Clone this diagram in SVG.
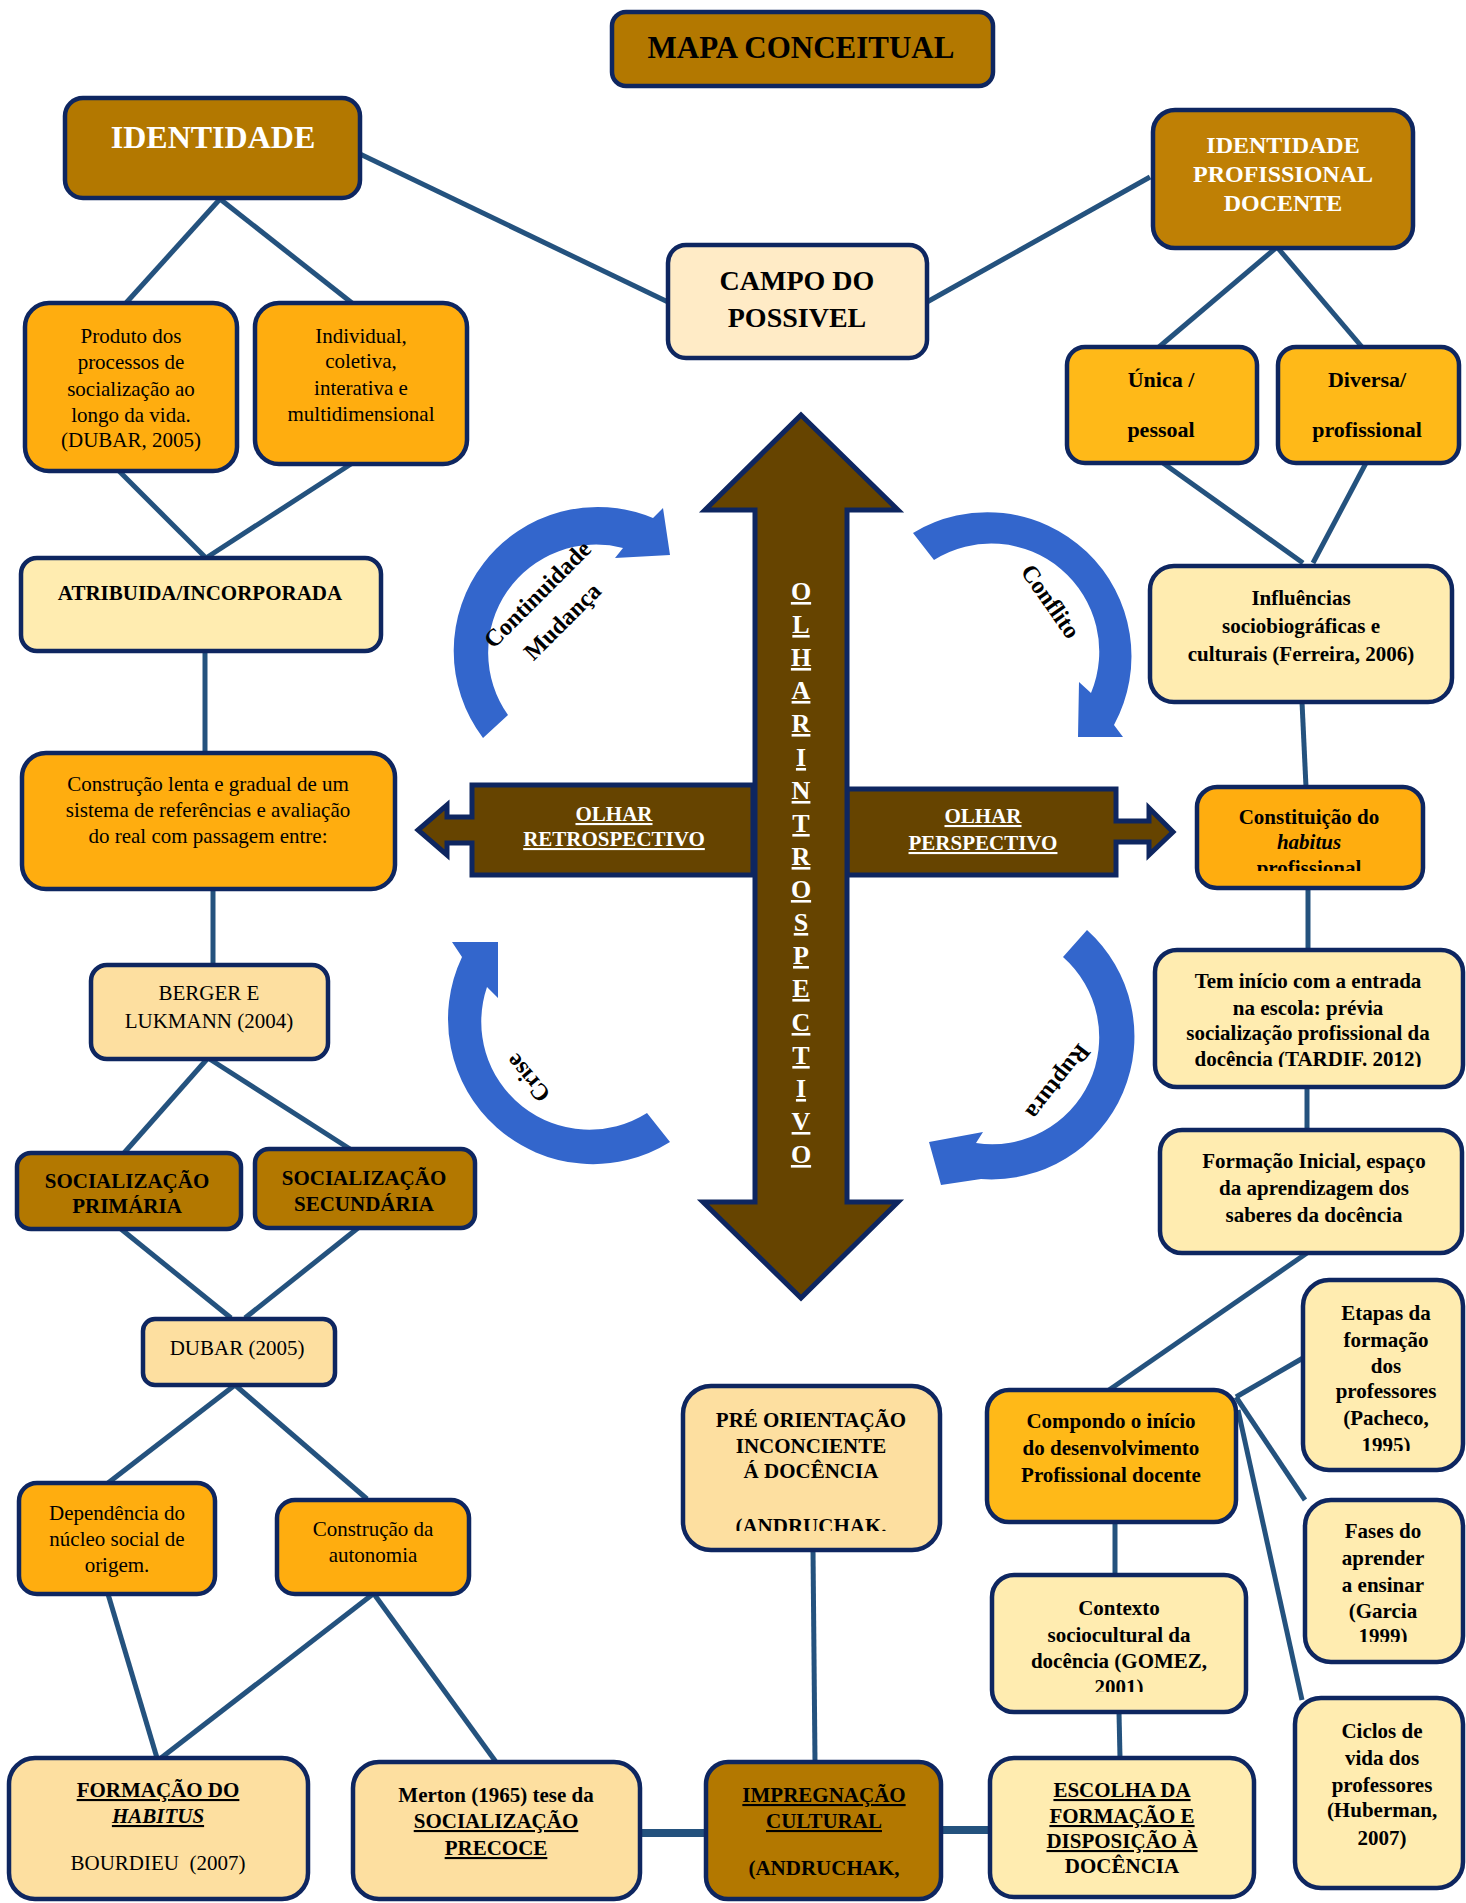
<svg xmlns="http://www.w3.org/2000/svg" width="1466" height="1903" viewBox="0 0 1466 1903">
<defs>
<style>
.bx{stroke:#0E2660;stroke-width:4.5}
.dg{fill:#B37800}
.or{fill:#FFAD0F}
.gd{fill:#FFB918}
.ly{fill:#FFECB0}
.pc{fill:#FDDFA0}
.c{stroke:#24527E;stroke-width:5;fill:none}
.ck{stroke:#24527E;stroke-width:8;fill:none}
.t{font-family:"Liberation Serif",serif;font-size:21px;text-anchor:middle;fill:#000}
.b{font-weight:bold}
.w{fill:#fff}
.u{text-decoration:underline}
.i{font-style:italic}
.bl{fill:#3366CC}
.ar{fill:#664400;stroke:#0E2660;stroke-width:5}
.s22{font-size:22px}
.s24{font-size:24px}
.s26{font-size:26px}
.s28{font-size:28px}
.s31{font-size:31px}
.s32{font-size:32px}
</style>
<clipPath id="clConst"><rect x="1197" y="787" width="226" height="84"/></clipPath>
<clipPath id="clTem"><rect x="1155" y="950" width="308" height="117"/></clipPath>
<clipPath id="clEt"><rect x="1303" y="1280" width="160" height="171"/></clipPath>
<clipPath id="clFa"><rect x="1305" y="1500" width="158" height="142"/></clipPath>
<clipPath id="clCx"><rect x="992" y="1575" width="254" height="117"/></clipPath>
<clipPath id="clPre"><rect x="683" y="1386" width="257" height="145"/></clipPath>
</defs>
<rect width="1466" height="1903" fill="#fff"/>

<g id="connectors">
<line class="c" x1="220" y1="199" x2="126" y2="303"/>
<line class="c" x1="220" y1="199" x2="352" y2="303"/>
<line class="c" x1="360" y1="154" x2="668" y2="302"/>
<line class="c" x1="927" y1="302" x2="1150" y2="177"/>
<line class="c" x1="1277" y1="247" x2="1159" y2="347"/>
<line class="c" x1="1277" y1="247" x2="1362" y2="347"/>
<line class="c" x1="119" y1="471" x2="206" y2="558"/>
<line class="c" x1="351" y1="464" x2="206" y2="558"/>
<line class="c" x1="205" y1="651" x2="205" y2="753"/>
<line class="c" x1="213" y1="889" x2="213" y2="965"/>
<line class="c" x1="208" y1="1058" x2="124" y2="1153"/>
<line class="c" x1="208" y1="1058" x2="350" y2="1149"/>
<line class="c" x1="121" y1="1229" x2="231" y2="1318"/>
<line class="c" x1="358" y1="1228" x2="245" y2="1318"/>
<line class="c" x1="235" y1="1385" x2="108" y2="1483"/>
<line class="c" x1="235" y1="1385" x2="367" y2="1499"/>
<line class="c" x1="108" y1="1594" x2="157" y2="1758"/>
<line class="c" x1="373" y1="1594" x2="161" y2="1758"/>
<line class="c" x1="374" y1="1594" x2="496" y2="1762"/>
<line class="ck" x1="640" y1="1833" x2="706" y2="1833"/>
<line class="ck" x1="941" y1="1830" x2="990" y2="1830"/>
<line class="c" x1="813" y1="1550" x2="815" y2="1762"/>
<line class="c" x1="1163" y1="463" x2="1303" y2="563"/>
<line class="c" x1="1366" y1="463" x2="1313" y2="563"/>
<line class="c" x1="1302" y1="702" x2="1306" y2="787"/>
<line class="c" x1="1308" y1="888" x2="1308" y2="950"/>
<line class="c" x1="1307" y1="1087" x2="1307" y2="1130"/>
<line class="c" x1="1307" y1="1253" x2="1109" y2="1390"/>
<line class="c" x1="1236" y1="1397" x2="1303" y2="1358"/>
<line class="c" x1="1236" y1="1397" x2="1305" y2="1500"/>
<line class="c" x1="1238" y1="1410" x2="1302" y2="1700"/>
<line class="c" x1="1115" y1="1522" x2="1115" y2="1575"/>
<line class="c" x1="1119" y1="1712" x2="1120" y2="1758"/>
</g>

<g id="title">
<rect class="bx dg" x="612" y="12" width="381" height="74" rx="14"/>
<text class="t b s31" x="801" y="58">MAPA CONCEITUAL</text>
</g>

<g id="identidade">
<rect class="bx dg" x="65" y="98" width="295" height="100" rx="18"/>
<text class="t b w s32" x="213" y="148">IDENTIDADE</text>
</g>

<g id="campo">
<rect class="bx" fill="#FFEBC6" x="668" y="245" width="259" height="113" rx="18"/>
<text class="t b s28" x="797" y="290">CAMPO DO</text>
<text class="t b s28" x="797" y="327">POSSIVEL</text>
</g>

<g id="idprof">
<rect class="bx" fill="#BF8005" x="1153" y="110" width="260" height="138" rx="22"/>
<text class="t b w s24" x="1283" y="153">IDENTIDADE</text>
<text class="t b w s24" x="1283" y="182">PROFISSIONAL</text>
<text class="t b w s24" x="1283" y="211">DOCENTE</text>
</g>

<g id="unica">
<rect class="bx gd" x="1067" y="347" width="190" height="116" rx="18"/>
<text class="t b s22" x="1161" y="387">Única /</text>
<text class="t b s22" x="1161" y="437">pessoal</text>
</g>

<g id="diversa">
<rect class="bx gd" x="1278" y="347" width="181" height="116" rx="18"/>
<text class="t b s22" x="1367" y="387">Diversa/</text>
<text class="t b s22" x="1367" y="437">profissional</text>
</g>

<g id="produto">
<rect class="bx or" x="25" y="303" width="212" height="168" rx="24"/>
<text class="t" x="131" y="343">Produto dos</text>
<text class="t" x="131" y="369">processos de</text>
<text class="t" x="131" y="396">socialização ao</text>
<text class="t" x="131" y="422">longo da vida.</text>
<text class="t" x="131" y="447">(DUBAR, 2005)</text>
</g>

<g id="individual">
<rect class="bx or" x="255" y="303" width="212" height="161" rx="24"/>
<text class="t" x="361" y="343">Individual,</text>
<text class="t" x="361" y="368">coletiva,</text>
<text class="t" x="361" y="395">interativa e</text>
<text class="t" x="361" y="421">multidimensional</text>
</g>

<g id="atribuida">
<rect class="bx ly" x="21" y="558" width="360" height="93" rx="16"/>
<text class="t b" x="200" y="600">ATRIBUIDA/INCORPORADA</text>
</g>

<g id="construcao">
<rect class="bx or" x="22" y="753" width="373" height="136" rx="24"/>
<text class="t" x="208" y="791">Construção lenta e gradual de um</text>
<text class="t" x="208" y="817">sistema de referências e avaliação</text>
<text class="t" x="208" y="843">do real com passagem entre:</text>
</g>

<g id="berger">
<rect class="bx pc" x="91" y="965" width="237" height="94" rx="16"/>
<text class="t" x="209" y="1000">BERGER E</text>
<text class="t" x="209" y="1028">LUKMANN (2004)</text>
</g>

<g id="socprim">
<rect class="bx dg" x="17" y="1153" width="224" height="76" rx="14"/>
<text class="t b" x="127" y="1188">SOCIALIZAÇÃO</text>
<text class="t b" x="127" y="1213">PRIMÁRIA</text>
</g>

<g id="socsec">
<rect class="bx dg" x="255" y="1149" width="220" height="79" rx="14"/>
<text class="t b" x="364" y="1185">SOCIALIZAÇÃO</text>
<text class="t b" x="364" y="1211">SECUNDÁRIA</text>
</g>

<g id="dubar">
<rect class="bx pc" x="143" y="1319" width="192" height="66" rx="12"/>
<text class="t" x="237" y="1355">DUBAR (2005)</text>
</g>

<g id="dependencia">
<rect class="bx or" x="19" y="1483" width="196" height="111" rx="18"/>
<text class="t" x="117" y="1520">Dependência do</text>
<text class="t" x="117" y="1546">núcleo social de</text>
<text class="t" x="117" y="1572">origem.</text>
</g>

<g id="autonomia">
<rect class="bx or" x="277" y="1500" width="192" height="94" rx="18"/>
<text class="t" x="373" y="1536">Construção da</text>
<text class="t" x="373" y="1562">autonomia</text>
</g>

<g id="habitus">
<rect class="bx pc" x="9" y="1758" width="299" height="141" rx="26"/>
<text class="t b u" x="158" y="1797">FORMAÇÃO DO</text>
<text class="t b i u" x="158" y="1823">HABITUS</text>
<text class="t" x="158" y="1870" xml:space="preserve">BOURDIEU  (2007)</text>
</g>

<g id="merton">
<rect class="bx pc" x="353" y="1762" width="287" height="137" rx="26"/>
<text class="t b" x="496" y="1802">Merton (1965) tese da</text>
<text class="t b u" x="496" y="1828">SOCIALIZAÇÃO</text>
<text class="t b u" x="496" y="1855">PRECOCE</text>
</g>

<g id="impregnacao">
<rect class="bx dg" x="706" y="1762" width="235" height="137" rx="22"/>
<text class="t b u" x="824" y="1802">IMPREGNAÇÃO</text>
<text class="t b u" x="824" y="1828">CULTURAL</text>
<text class="t b" x="824" y="1875">(ANDRUCHAK,</text>
</g>

<g id="preorientacao">
<rect class="bx pc" x="683" y="1386" width="257" height="164" rx="28"/>
<text class="t b" x="811" y="1427">PRÉ ORIENTAÇÃO</text>
<text class="t b" x="811" y="1453">INCONCIENTE</text>
<text class="t b" x="811" y="1478">Á DOCÊNCIA</text>
<text class="t b" x="811" y="1533" clip-path="url(#clPre)">(ANDRUCHAK.</text>
</g>

<g id="compondo">
<rect class="bx gd" x="987" y="1390" width="249" height="132" rx="22"/>
<text class="t b" x="1111" y="1428">Compondo o início</text>
<text class="t b" x="1111" y="1455">do desenvolvimento</text>
<text class="t b" x="1111" y="1482">Profissional docente</text>
</g>

<g id="contexto">
<rect class="bx ly" x="992" y="1575" width="254" height="137" rx="22"/>
<text class="t b" x="1119" y="1615">Contexto</text>
<text class="t b" x="1119" y="1642">sociocultural da</text>
<text class="t b" x="1119" y="1668">docência (GOMEZ,</text>
<text class="t b" x="1119" y="1694" clip-path="url(#clCx)">2001)</text>
</g>

<g id="escolha">
<rect class="bx ly" x="990" y="1758" width="264" height="139" rx="24"/>
<text class="t b u" x="1122" y="1797">ESCOLHA DA</text>
<text class="t b u" x="1122" y="1823">FORMAÇÃO E</text>
<text class="t b u" x="1122" y="1848">DISPOSIÇÃO À</text>
<text class="t b" x="1122" y="1873">DOCÊNCIA</text>
</g>

<g id="influencias">
<rect class="bx ly" x="1150" y="566" width="302" height="136" rx="24"/>
<text class="t b" x="1301" y="605">Influências</text>
<text class="t b" x="1301" y="633">sociobiográficas e</text>
<text class="t b" x="1301" y="661">culturais (Ferreira, 2006)</text>
</g>

<g id="constituicao">
<rect class="bx or" x="1197" y="787" width="226" height="101" rx="20"/>
<text class="t b" x="1309" y="824">Constituição do</text>
<text class="t b i" x="1309" y="849">habitus</text>
<text class="t b" x="1309" y="875" clip-path="url(#clConst)">profissional</text>
</g>

<g id="teminicio">
<rect class="bx ly" x="1155" y="950" width="308" height="137" rx="22"/>
<text class="t b" x="1308" y="988">Tem início com a entrada</text>
<text class="t b" x="1308" y="1015">na escola: prévia</text>
<text class="t b" x="1308" y="1040">socialização profissional da</text>
<text class="t b" x="1308" y="1066" clip-path="url(#clTem)">docência (TARDIF. 2012)</text>
</g>

<g id="formacaoinicial">
<rect class="bx ly" x="1160" y="1130" width="302" height="123" rx="22"/>
<text class="t b" x="1314" y="1168">Formação Inicial, espaço</text>
<text class="t b" x="1314" y="1195">da aprendizagem dos</text>
<text class="t b" x="1314" y="1222">saberes da docência</text>
</g>

<g id="etapas">
<rect class="bx ly" x="1303" y="1280" width="160" height="190" rx="26"/>
<text class="t b" x="1386" y="1320">Etapas da</text>
<text class="t b" x="1386" y="1347">formação</text>
<text class="t b" x="1386" y="1373">dos</text>
<text class="t b" x="1386" y="1398">professores</text>
<text class="t b" x="1386" y="1425">(Pacheco,</text>
<text class="t b" x="1386" y="1452" clip-path="url(#clEt)">1995)</text>
</g>

<g id="fases">
<rect class="bx ly" x="1305" y="1500" width="158" height="162" rx="26"/>
<text class="t b" x="1383" y="1538">Fases do</text>
<text class="t b" x="1383" y="1565">aprender</text>
<text class="t b" x="1383" y="1592">a ensinar</text>
<text class="t b" x="1383" y="1618">(Garcia</text>
<text class="t b" x="1383" y="1643" clip-path="url(#clFa)">1999)</text>
</g>

<g id="ciclos">
<rect class="bx ly" x="1295" y="1698" width="168" height="190" rx="26"/>
<text class="t b" x="1382" y="1738">Ciclos de</text>
<text class="t b" x="1382" y="1765">vida dos</text>
<text class="t b" x="1382" y="1792">professores</text>
<text class="t b" x="1382" y="1817">(Huberman,</text>
<text class="t b" x="1382" y="1845">2007)</text>
</g>

<g id="olhar-retrospectivo">
<polygon class="ar" points="753,785 472,785 472,817 447,817 447,805 418,830 447,855 447,843 472,843 472,875 753,875"/>
<text class="t b w u" x="614" y="821">OLHAR</text>
<text class="t b w u" x="614" y="846">RETROSPECTIVO</text>
</g>

<g id="olhar-perspectivo">
<polygon class="ar" points="847,789 1116,789 1116,821 1149,821 1149,808 1173,832 1149,855 1149,842 1116,842 1116,875 847,875"/>
<text class="t b w u" x="983" y="823">OLHAR</text>
<text class="t b w u" x="983" y="850">PERSPECTIVO</text>
</g>

<g id="olhar-introspectivo">
<polygon class="ar" points="801,415 898,510 847,510 847,1202 898,1202 801,1298 703,1202 755,1202 755,510 705,510"/>
<text class="t b w u s26" x="801" y="600">O</text>
<text class="t b w u s26" x="801" y="633">L</text>
<text class="t b w u s26" x="801" y="666">H</text>
<text class="t b w u s26" x="801" y="699">A</text>
<text class="t b w u s26" x="801" y="732">R</text>
<text class="t b w u s26" x="801" y="766">I</text>
<text class="t b w u s26" x="801" y="799">N</text>
<text class="t b w u s26" x="801" y="832">T</text>
<text class="t b w u s26" x="801" y="865">R</text>
<text class="t b w u s26" x="801" y="898">O</text>
<text class="t b w u s26" x="801" y="931">S</text>
<text class="t b w u s26" x="801" y="964">P</text>
<text class="t b w u s26" x="801" y="997">E</text>
<text class="t b w u s26" x="801" y="1031">C</text>
<text class="t b w u s26" x="801" y="1064">T</text>
<text class="t b w u s26" x="801" y="1097">I</text>
<text class="t b w u s26" x="801" y="1130">V</text>
<text class="t b w u s26" x="801" y="1163">O</text>
</g>

<g id="continuidade-mudanca">
<path class="bl" d="M483,738 A144,144 0 0 1 653,518 L663,508 L670,555 L615,558 L623,548 A108,108 0 0 0 508,715 Z"/>
<text class="t b s24" transform="translate(543,600) rotate(-45)">Continuidade</text>
<text class="t b s24" transform="translate(568,627) rotate(-45)">Mudança</text>
</g>

<g id="conflito">
<path class="bl" d="M913,533 A144,144 0 0 1 1114,725 L1123,737 L1078,737 L1079,682 L1091,693 A108,108 0 0 0 934,560 Z"/>
<text class="t b s24" transform="translate(1044,606) rotate(55)">Conflito</text>
</g>

<g id="crise">
<path class="bl" d="M670,1142 A145,145 0 0 1 462,957 L452,942 L498,942 L498,998 L487,987 A108,108 0 0 0 647,1113 Z"/>
<text class="t b s24" transform="translate(534,1073) rotate(-130)">Crise</text>
</g>

<g id="ruptura">
<path class="bl" d="M1087,930 A143,143 0 0 1 981,1179 L941,1185 L929,1142 L983,1132 L976,1143 A107,107 0 0 0 1063,957 Z"/>
<text class="t b s24" transform="translate(1052,1077) rotate(128)">Ruptura</text>
</g>
</svg>
